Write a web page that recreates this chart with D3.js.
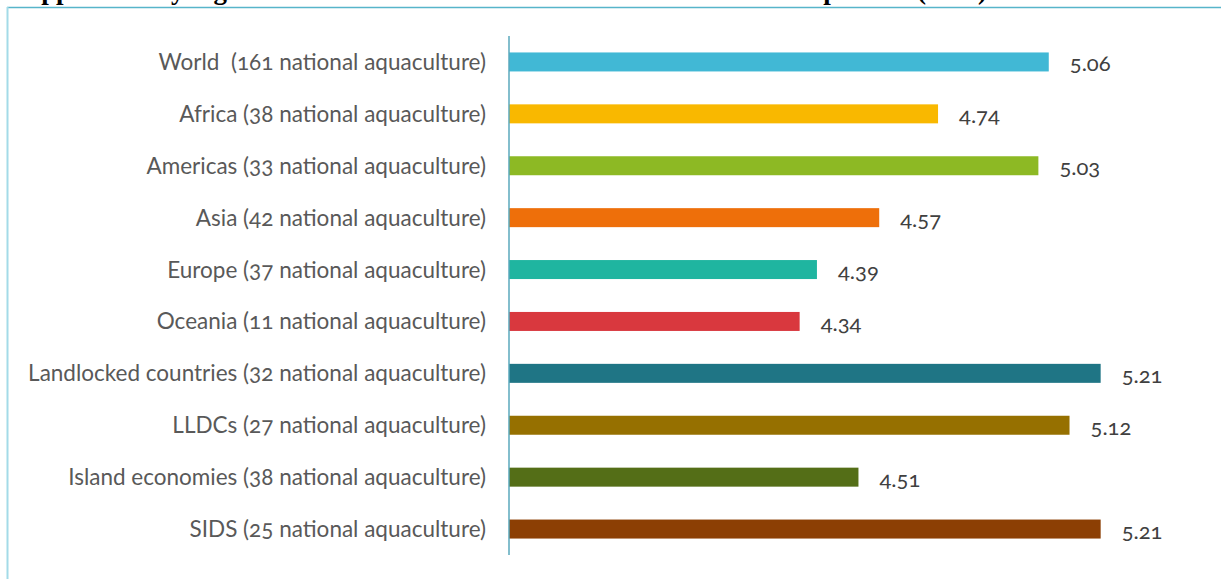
<!DOCTYPE html>
<html>
<head>
<meta charset="utf-8">
<script src="https://cdn.jsdelivr.net/npm/d3@7"></script>
<style>
    body { margin: 0; background: #fff; }
    svg { display: block; }
    .cat { font-family: Lato, "Noto Sans", sans-serif; font-size: 22.5px; fill: #595959; font-variant-numeric: oldstyle-nums; white-space: pre; }
    .val { font-family: Lato, "Noto Sans", sans-serif; font-size: 22px; fill: #404040; font-variant-numeric: oldstyle-nums; }
</style>
</head>
<body>
<div id="wrapper"></div>
<script>
// chart data
const categories = [
    "World  (161 national aquaculture)",
    "Africa (38 national aquaculture)",
    "Americas (33 national aquaculture)",
    "Asia (42 national aquaculture)",
    "Europe (37 national aquaculture)",
    "Oceania (11 national aquaculture)",
    "Landlocked countries (32 national aquaculture)",
    "LLDCs (27 national aquaculture)",
    "Island economies (38 national aquaculture)",
    "SIDS (25 national aquaculture)"
];
const values = [5.06, 4.74, 5.03, 4.57, 4.39, 4.34, 5.21, 5.12, 4.51, 5.21];
const barColors = ["#41b8d5", "#f9b800", "#8db924", "#ee6f0a", "#1fb5a0",
    "#d9383e", "#1f7585", "#967000", "#546e17", "#8c3f04"];
const titleText = "Supplementary Figure 6: Mean Mariculture Index Score of national components (2018)";

let wSvg = 1221;
let hSvg = 579;

let svg = d3.select("#wrapper")
    .append("svg")
    .attr("width", wSvg)
    .attr("height", hSvg);

// title, mostly cut off at the top of the picture (as in the original)
svg.append("text")
    .attr("x", 12)
    .attr("y", -1)
    .attr("textLength", 975)
    .attr("lengthAdjust", "spacing")
    .style("font-family", "'Liberation Serif', 'Times New Roman', serif")
    .style("font-weight", "bold")
    .style("font-size", "27px")
    .style("fill", "#000")
    .text(titleText);

// chart frame
svg.append("line")
    .attr("x1", 7).attr("x2", wSvg)
    .attr("y1", 7.5).attr("y2", 7.5)
    .attr("stroke", "#57b5ca")
    .attr("stroke-width", 1.5);
svg.append("line")
    .attr("x1", 7.5).attr("x2", 7.5)
    .attr("y1", 7).attr("y2", hSvg)
    .attr("stroke", "#a3dbe8")
    .attr("stroke-width", 2);

let xScale = d3.scaleLinear()
    .domain([3.5, 5.5])
    .range([509, 1201]);

let yScale = d3.scaleBand()
    .domain(categories)
    .range([36, 555])
    .paddingInner(0.634)
    .paddingOuter(0.317);

let rows = categories.map((c, i) => ({ cat: c, value: values[i], color: barColors[i] }));

svg.selectAll("rect.bar")
    .data(rows)
    .enter()
    .append("rect")
    .attr("class", "bar")
    .attr("x", xScale(3.5))
    .attr("y", d => yScale(d.cat))
    .attr("width", d => xScale(d.value) - xScale(3.5))
    .attr("height", yScale.bandwidth())
    .attr("fill", d => d.color);

// category labels
svg.selectAll("text.cat")
    .data(rows)
    .enter()
    .append("text")
    .attr("class", "cat")
    .attr("x", 486)
    .attr("y", d => yScale(d.cat) + yScale.bandwidth() / 2 + 8)
    .attr("text-anchor", "end")
    .text(d => d.cat);

// value labels
svg.selectAll("text.val")
    .data(rows)
    .enter()
    .append("text")
    .attr("class", "val")
    .attr("x", d => xScale(d.value) + 21)
    .attr("y", d => yScale(d.cat) + yScale.bandwidth() / 2 + 9.5)
    .text(d => d3.format(".2f")(d.value));

// vertical axis line
svg.append("line")
    .attr("x1", xScale(3.5)).attr("x2", xScale(3.5))
    .attr("y1", 36).attr("y2", 555)
    .attr("stroke", "#5aa8bc")
    .attr("stroke-width", 1.5);
</script>
</body>
</html>
